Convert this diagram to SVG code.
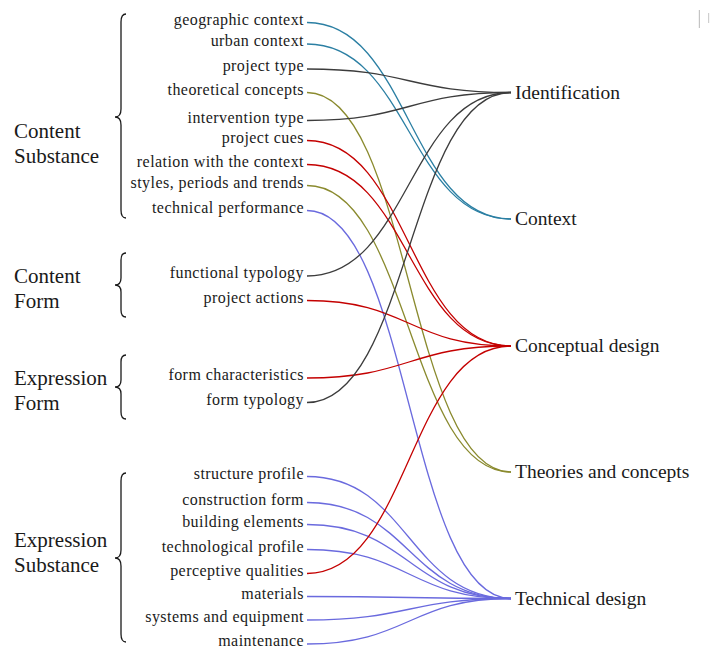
<svg xmlns="http://www.w3.org/2000/svg" width="710" height="650" viewBox="0 0 710 650">
  <style>
    text { font-family: "Liberation Serif", "DejaVu Serif", "Times New Roman", serif; fill: #1a1a1a; }
    .group { font-size: 21px; }
    .item { font-size: 16px; letter-spacing: 0.45px; text-anchor: end; }
    .target { font-size: 19.5px; }
    .brace { fill: none; stroke: #1a1a1a; stroke-width: 1.3; }
    .link { fill: none; stroke-width: 1.3; }
    .ctx { stroke: #2b7fa3; }
    .idn { stroke: #3c3c3c; }
    .thc { stroke: #8a8a2e; }
    .cpt { stroke: #c40000; }
    .tec { stroke: #6a6ade; }
  </style>

  <rect width="710" height="650" fill="#ffffff"/>

  <!-- small grey marks at the top-right edge -->
  <rect x="698.8" y="10" width="1.2" height="18" fill="#c4c4c4"/>
  <rect x="708" y="13" width="1.2" height="10" fill="#cfcfcf"/>

  <g font-family="Liberation Serif, DejaVu Serif, serif">
  <!-- group braces and labels -->
  <g id="group-content-substance">
    <path class="brace" d="M126,14 Q121,14 121,22 L121,109 Q121,117 115,117 Q121,117 121,125 L121,210 Q121,218 126,218"/>
    <text class="group" x="14" y="138">Content</text>
    <text class="group" x="14" y="163">Substance</text>
  </g>
  <g id="group-content-form">
    <path class="brace" d="M126,253 Q121,253 121,260 L121,278 Q121,285 115,285 Q121,285 121,292 L121,310 Q121,317 126,317"/>
    <text class="group" x="14" y="283">Content</text>
    <text class="group" x="14" y="308">Form</text>
  </g>
  <g id="group-expression-form">
    <path class="brace" d="M126,355 Q121,355 121,362 L121,380 Q121,387 115,387 Q121,387 121,394 L121,412 Q121,419 126,419"/>
    <text class="group" x="14" y="385">Expression</text>
    <text class="group" x="14" y="410">Form</text>
  </g>
  <g id="group-expression-substance">
    <path class="brace" d="M126,473 Q121,473 121,481 L121,550 Q121,558 115,558 Q121,558 121,566 L121,634 Q121,642 126,642"/>
    <text class="group" x="14" y="547">Expression</text>
    <text class="group" x="14" y="572">Substance</text>
  </g>

  <!-- connectors: horizontal cubic links from item to target -->
  <g id="links">
    <path class="link ctx" d="M307,22.5 C409,22.5 409,219 511,219"/>
    <path class="link ctx" d="M307,44 C409,44 409,219 511,219"/>
    <path class="link idn" d="M307,69 C409,69 409,92.5 511,92.5"/>
    <path class="link thc" d="M307,92.5 C409,92.5 409,472 511,472"/>
    <path class="link idn" d="M307,120.5 C409,120.5 409,92.5 511,92.5"/>
    <path class="link cpt" d="M307,140.5 C409,140.5 409,346 511,346"/>
    <path class="link cpt" d="M307,164.5 C409,164.5 409,346 511,346"/>
    <path class="link thc" d="M307,185.5 C409,185.5 409,472 511,472"/>
    <path class="link tec" d="M307,210.5 C409,210.5 409,598.5 511,598.5"/>
    <path class="link idn" d="M307,276 C409,276 409,92.5 511,92.5"/>
    <path class="link cpt" d="M307,300.5 C409,300.5 409,346 511,346"/>
    <path class="link cpt" d="M307,378 C409,378 409,346 511,346"/>
    <path class="link idn" d="M307,402.5 C409,402.5 409,92.5 511,92.5"/>
    <path class="link tec" d="M307,476.5 C409,476.5 409,598.5 511,598.5"/>
    <path class="link tec" d="M307,502.5 C409,502.5 409,598.5 511,598.5"/>
    <path class="link tec" d="M307,524.5 C409,524.5 409,598.5 511,598.5"/>
    <path class="link tec" d="M307,549.5 C409,549.5 409,598.5 511,598.5"/>
    <path class="link cpt" d="M307,573.5 C409,573.5 409,346 511,346"/>
    <path class="link tec" d="M307,596.5 C409,596.5 409,598.5 511,598.5"/>
    <path class="link tec" d="M307,620 C409,620 409,598.5 511,598.5"/>
    <path class="link tec" d="M307,644 C409,644 409,598.5 511,598.5"/>
  </g>

  <!-- source items -->
  <g id="item-geographic-context"><text class="item" x="304" y="24.5">geographic context</text></g>
  <g id="item-urban-context"><text class="item" x="304" y="46">urban context</text></g>
  <g id="item-project-type"><text class="item" x="304" y="71">project type</text></g>
  <g id="item-theoretical-concepts"><text class="item" x="304" y="94.5">theoretical concepts</text></g>
  <g id="item-intervention-type"><text class="item" x="304" y="122.5">intervention type</text></g>
  <g id="item-project-cues"><text class="item" x="304" y="142.5">project cues</text></g>
  <g id="item-relation-context"><text class="item" x="304" y="166.5">relation with the context</text></g>
  <g id="item-styles"><text class="item" x="304" y="187.5">styles, periods and trends</text></g>
  <g id="item-technical-performance"><text class="item" x="304" y="212.5">technical performance</text></g>
  <g id="item-functional-typology"><text class="item" x="304" y="278">functional typology</text></g>
  <g id="item-project-actions"><text class="item" x="304" y="302.5">project actions</text></g>
  <g id="item-form-characteristics"><text class="item" x="304" y="380">form characteristics</text></g>
  <g id="item-form-typology"><text class="item" x="304" y="404.5">form typology</text></g>
  <g id="item-structure-profile"><text class="item" x="304" y="478.5">structure profile</text></g>
  <g id="item-construction-form"><text class="item" x="304" y="504.5">construction form</text></g>
  <g id="item-building-elements"><text class="item" x="304" y="526.5">building elements</text></g>
  <g id="item-technological-profile"><text class="item" x="304" y="551.5">technological profile</text></g>
  <g id="item-perceptive-qualities"><text class="item" x="304" y="575.5">perceptive qualities</text></g>
  <g id="item-materials"><text class="item" x="304" y="598.5">materials</text></g>
  <g id="item-systems-equipment"><text class="item" x="304" y="622">systems and equipment</text></g>
  <g id="item-maintenance"><text class="item" x="304" y="646">maintenance</text></g>

  <!-- targets -->
  <g id="target-identification"><text class="target" x="515" y="98.5">Identification</text></g>
  <g id="target-context"><text class="target" x="515" y="225">Context</text></g>
  <g id="target-conceptual-design"><text class="target" x="515" y="352">Conceptual design</text></g>
  <g id="target-theories-concepts"><text class="target" x="515" y="478">Theories and concepts</text></g>
  <g id="target-technical-design"><text class="target" x="515" y="604.5">Technical design</text></g>
  </g>
</svg>
